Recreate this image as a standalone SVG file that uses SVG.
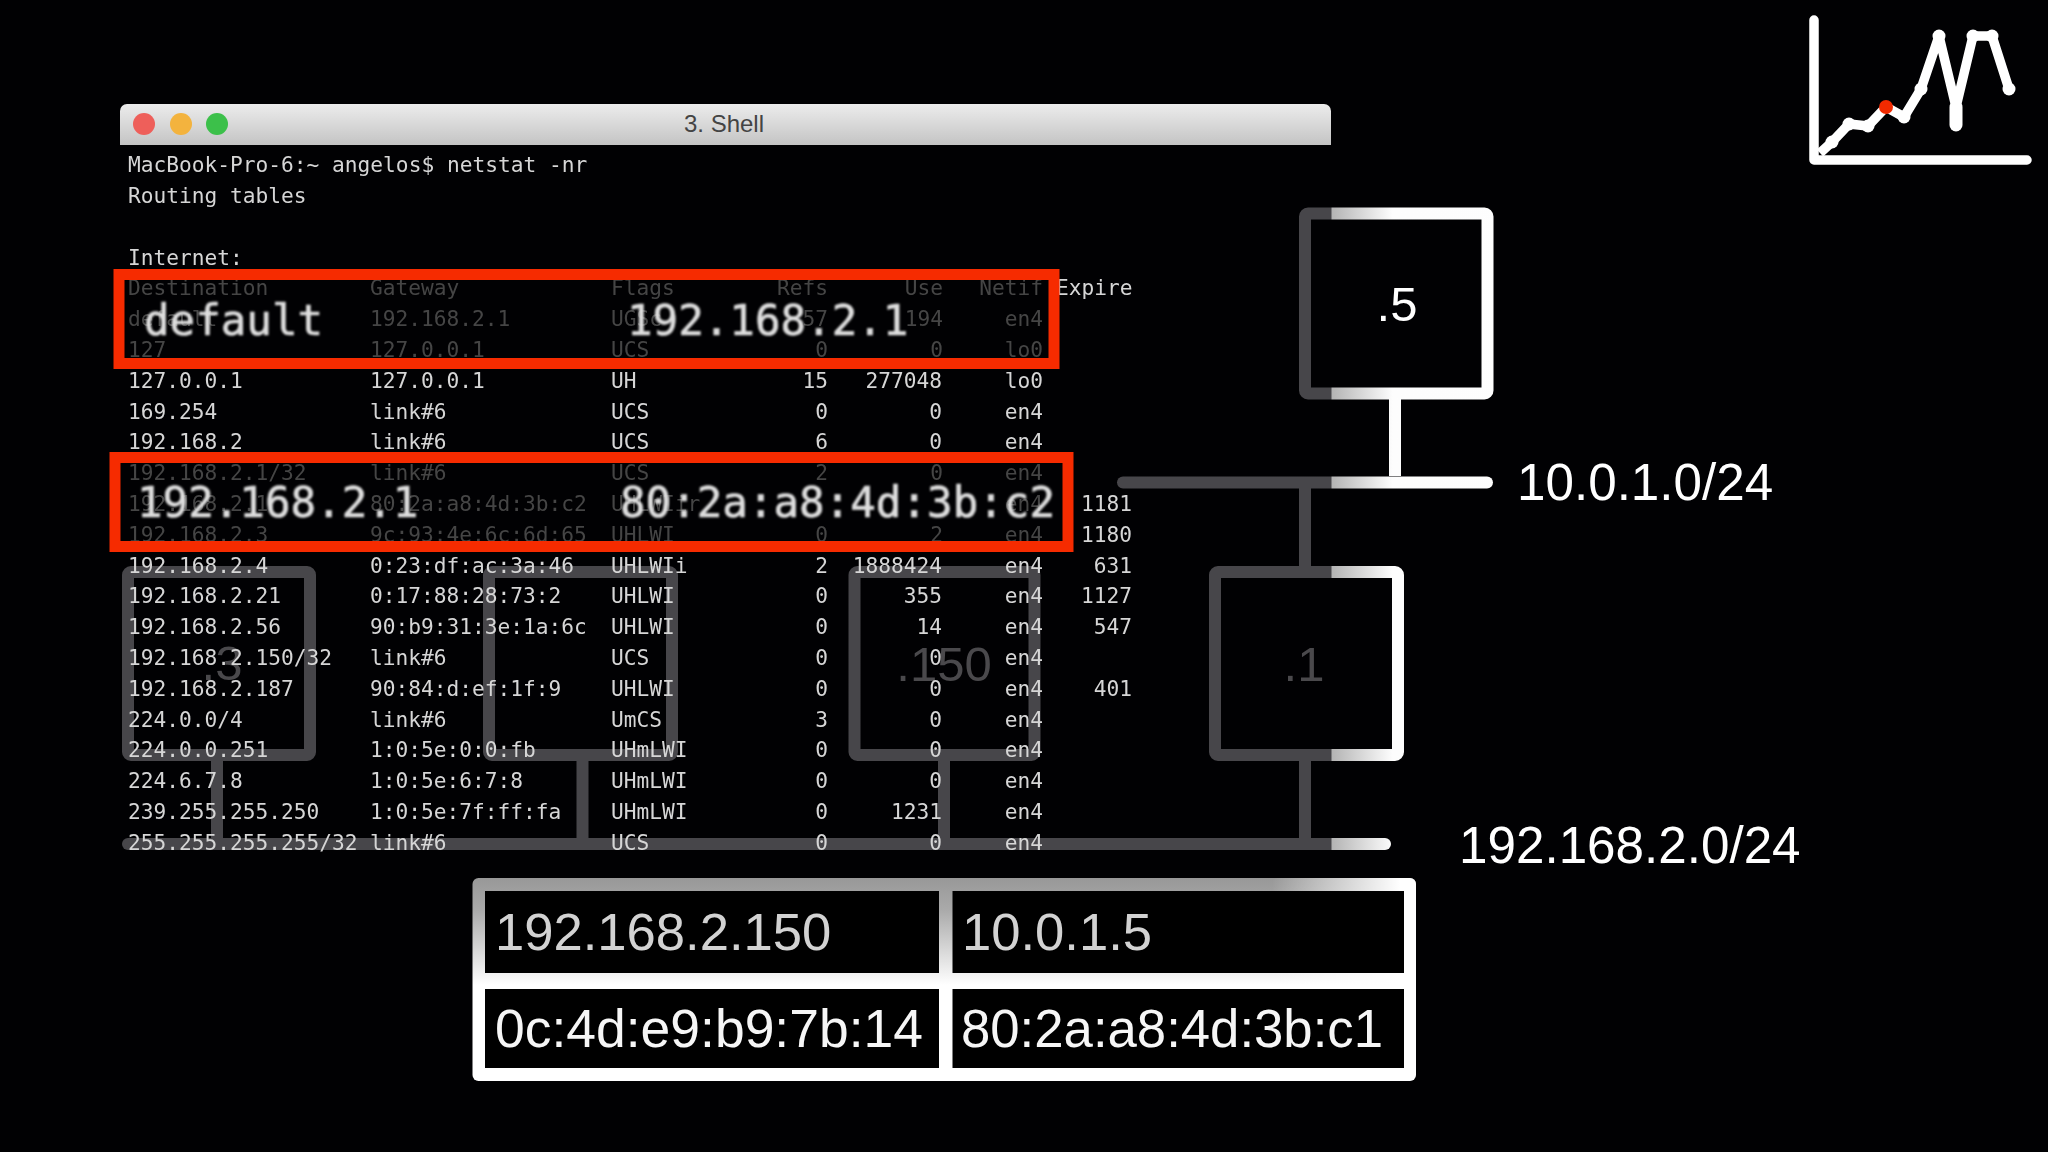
<svg xmlns="http://www.w3.org/2000/svg" width="2048" height="1152" viewBox="0 0 2048 1152">
<style>
.t{font-family:"DejaVu Sans Mono","Liberation Mono",monospace;font-size:21.2px;fill:#d6d6d6}
.d{fill:#454545}
.e{text-anchor:end}
.big{font-family:"DejaVu Sans Mono","Liberation Mono",monospace;font-size:42.5px;fill:#dedede;stroke:#dedede;stroke-width:0.7}
.h{font-family:"Liberation Sans",Arial,sans-serif}
.net{fill:none;stroke:url(#fade);stroke-width:12;stroke-linejoin:round;stroke-linecap:round}
.stem{fill:none;stroke:url(#fade);stroke-width:12}
.lbl{font-family:"Liberation Sans",Arial,sans-serif;font-size:51.2px;fill:#fff}
.node{font-family:"Liberation Sans",Arial,sans-serif;font-size:49px;fill:#4a494c}
.cell{font-family:"Liberation Sans",Arial,sans-serif;font-size:52.600px}
.cell2{font-family:"Liberation Sans",Arial,sans-serif;font-size:53.200px}
.red{fill:none;stroke:#f62b00;stroke-width:11}
</style>
<defs>
<linearGradient id="fade" gradientUnits="userSpaceOnUse" x1="0" y1="0" x2="2048" y2="0">
<stop offset="0.6499" stop-color="#47464a"/><stop offset="0.6504" stop-color="#b4b4b4"/><stop offset="0.68" stop-color="#fdfdfd"/><stop offset="1" stop-color="#fff"/>
</linearGradient>
<linearGradient id="bar" x1="0" y1="0" x2="0" y2="1"><stop offset="0" stop-color="#ececec"/><stop offset="1" stop-color="#c4c4c4"/></linearGradient>
<linearGradient id="frame" gradientUnits="userSpaceOnUse" x1="0" y1="878" x2="0" y2="985"><stop offset="0" stop-color="#989898"/><stop offset="0.3" stop-color="#aaa"/><stop offset="1" stop-color="#fff"/></linearGradient>
<linearGradient id="frameR" gradientUnits="userSpaceOnUse" x1="1272" y1="0" x2="1400" y2="0"><stop offset="0" stop-color="#fff" stop-opacity="0"/><stop offset="1" stop-color="#fff"/></linearGradient>
<filter id="soft" x="-2%" y="-2%" width="104%" height="104%"><feGaussianBlur stdDeviation="0.5"/></filter>
<filter id="soft2" x="-5%" y="-20%" width="110%" height="140%"><feGaussianBlur stdDeviation="0.9"/></filter>
</defs>
<rect width="2048" height="1152" fill="#010103"/>

<g id="connectors">
<path class="net" d="M128 844H1385"/>
<path class="net" d="M1123 482.500H1487"/>
<path class="stem" d="M217 761V838M582.500 761V838M944 761V838M1305 761V838M1305 488V566M1395 399V476"/>
</g>

<g id="node-3"><rect class="net" x="128" y="572" width="182" height="183" rx="3"/><text class="node" x="222" y="680" text-anchor="middle">.3</text></g>
<g id="node-blank"><rect class="net" x="489" y="572" width="183" height="183" rx="3"/></g>
<g id="node-150"><rect class="net" x="854.500" y="572" width="180" height="183" rx="3"/><text class="node" x="944" y="681" text-anchor="middle">.150</text></g>
<g id="node-1"><rect class="net" x="1215" y="572" width="183" height="183" rx="3"/><text class="node" x="1304" y="681" text-anchor="middle">.1</text></g>
<g id="node-5"><rect class="net" x="1305" y="213.500" width="182.500" height="180" rx="3"/><text class="node" style="fill:#fff" x="1397" y="321" text-anchor="middle">.5</text></g>

<g id="terminal">
<path d="M120 145V111a7 7 0 0 1 7-7H1324a7 7 0 0 1 7 7V145Z" fill="url(#bar)"/>
<circle cx="144" cy="124" r="11" fill="#ee5f5a"/><circle cx="181" cy="124" r="11" fill="#f3b33e"/><circle cx="217" cy="124" r="11" fill="#3cc04a"/>
<text class="h" x="724" y="132" font-size="24" fill="#444" text-anchor="middle">3. Shell</text>
<g filter="url(#soft)" transform="translate(1,-1.2)">
<text class="t" x="127" y="173.500">MacBook-Pro-6:~ angelos$ netstat -nr</text>
<text class="t" x="127" y="204.300">Routing tables</text>
<text class="t" x="127" y="265.900">Internet:</text>

<g class="dimrow">
<text class="t d" x="127" y="296.700">Destination</text><text class="t d" x="369" y="296.700">Gateway</text><text class="t d" x="610" y="296.700">Flags</text><text class="t d e" x="827" y="296.700">Refs</text><text class="t d e" x="942" y="296.700">Use</text><text class="t d e" x="1042" y="296.700">Netif</text>
<text class="t d" x="127" y="327.500">default</text><text class="t d" x="369" y="327.500">192.168.2.1</text><text class="t d" x="610" y="327.500">UGSc</text><text class="t d e" x="827" y="327.500">57</text><text class="t d e" x="942" y="327.500">194</text><text class="t d e" x="1042" y="327.500">en4</text>
<text class="t d" x="127" y="358.300">127</text><text class="t d" x="369" y="358.300">127.0.0.1</text><text class="t d" x="610" y="358.300">UCS</text><text class="t d e" x="827" y="358.300">0</text><text class="t d e" x="942" y="358.300">0</text><text class="t d e" x="1042" y="358.300">lo0</text>
<text class="t d" x="127" y="481.500">192.168.2.1/32</text><text class="t d" x="369" y="481.500">link#6</text><text class="t d" x="610" y="481.500">UCS</text><text class="t d e" x="827" y="481.500">2</text><text class="t d e" x="942" y="481.500">0</text><text class="t d e" x="1042" y="481.500">en4</text>
<text class="t d" x="127" y="512.300">192.168.2.1</text><text class="t d" x="369" y="512.300">80:2a:a8:4d:3b:c2</text><text class="t d" x="610" y="512.300">UHLWIir</text><text class="t d e" x="1042" y="512.300">en4</text>
<text class="t d" x="127" y="543.100">192.168.2.3</text><text class="t d" x="369" y="543.100">9c:93:4e:6c:6d:65</text><text class="t d" x="610" y="543.100">UHLWI</text><text class="t d e" x="827" y="543.100">0</text><text class="t d e" x="942" y="543.100">2</text><text class="t d e" x="1042" y="543.100">en4</text>
</g>

<text class="t" x="1055" y="296.700">Expire</text>
<text class="t e" x="1131" y="512.300">1181</text>
<text class="t e" x="1131" y="543.100">1180</text>

<text class="t" x="127" y="389.100">127.0.0.1</text><text class="t" x="369" y="389.100">127.0.0.1</text><text class="t" x="610" y="389.100">UH</text><text class="t e" x="827" y="389.100">15</text><text class="t e" x="941" y="389.100">277048</text><text class="t e" x="1042" y="389.100">lo0</text>
<text class="t" x="127" y="419.900">169.254</text><text class="t" x="369" y="419.900">link#6</text><text class="t" x="610" y="419.900">UCS</text><text class="t e" x="827" y="419.900">0</text><text class="t e" x="941" y="419.900">0</text><text class="t e" x="1042" y="419.900">en4</text>
<text class="t" x="127" y="450.700">192.168.2</text><text class="t" x="369" y="450.700">link#6</text><text class="t" x="610" y="450.700">UCS</text><text class="t e" x="827" y="450.700">6</text><text class="t e" x="941" y="450.700">0</text><text class="t e" x="1042" y="450.700">en4</text>

<text class="t" x="127" y="573.900">192.168.2.4</text><text class="t" x="369" y="573.900">0:23:df:ac:3a:46</text><text class="t" x="610" y="573.900">UHLWIi</text><text class="t e" x="827" y="573.900">2</text><text class="t e" x="941" y="573.900">1888424</text><text class="t e" x="1042" y="573.900">en4</text><text class="t e" x="1131" y="573.900">631</text>
<text class="t" x="127" y="604.700">192.168.2.21</text><text class="t" x="369" y="604.700">0:17:88:28:73:2</text><text class="t" x="610" y="604.700">UHLWI</text><text class="t e" x="827" y="604.700">0</text><text class="t e" x="941" y="604.700">355</text><text class="t e" x="1042" y="604.700">en4</text><text class="t e" x="1131" y="604.700">1127</text>
<text class="t" x="127" y="635.500">192.168.2.56</text><text class="t" x="369" y="635.500">90:b9:31:3e:1a:6c</text><text class="t" x="610" y="635.500">UHLWI</text><text class="t e" x="827" y="635.500">0</text><text class="t e" x="941" y="635.500">14</text><text class="t e" x="1042" y="635.500">en4</text><text class="t e" x="1131" y="635.500">547</text>
<text class="t" x="127" y="666.300">192.168.2.150/32</text><text class="t" x="369" y="666.300">link#6</text><text class="t" x="610" y="666.300">UCS</text><text class="t e" x="827" y="666.300">0</text><text class="t e" x="941" y="666.300">0</text><text class="t e" x="1042" y="666.300">en4</text>
<text class="t" x="127" y="697.100">192.168.2.187</text><text class="t" x="369" y="697.100">90:84:d:ef:1f:9</text><text class="t" x="610" y="697.100">UHLWI</text><text class="t e" x="827" y="697.100">0</text><text class="t e" x="941" y="697.100">0</text><text class="t e" x="1042" y="697.100">en4</text><text class="t e" x="1131" y="697.100">401</text>
<text class="t" x="127" y="727.900">224.0.0/4</text><text class="t" x="369" y="727.900">link#6</text><text class="t" x="610" y="727.900">UmCS</text><text class="t e" x="827" y="727.900">3</text><text class="t e" x="941" y="727.900">0</text><text class="t e" x="1042" y="727.900">en4</text>
<text class="t" x="127" y="758.700">224.0.0.251</text><text class="t" x="369" y="758.700">1:0:5e:0:0:fb</text><text class="t" x="610" y="758.700">UHmLWI</text><text class="t e" x="827" y="758.700">0</text><text class="t e" x="941" y="758.700">0</text><text class="t e" x="1042" y="758.700">en4</text>
<text class="t" x="127" y="789.500">224.6.7.8</text><text class="t" x="369" y="789.500">1:0:5e:6:7:8</text><text class="t" x="610" y="789.500">UHmLWI</text><text class="t e" x="827" y="789.500">0</text><text class="t e" x="941" y="789.500">0</text><text class="t e" x="1042" y="789.500">en4</text>
<text class="t" x="127" y="820.300">239.255.255.250</text><text class="t" x="369" y="820.300">1:0:5e:7f:ff:fa</text><text class="t" x="610" y="820.300">UHmLWI</text><text class="t e" x="827" y="820.300">0</text><text class="t e" x="941" y="820.300">1231</text><text class="t e" x="1042" y="820.300">en4</text>
<text class="t" x="127" y="851.100">255.255.255.255/32</text><text class="t" x="369" y="851.100">link#6</text><text class="t" x="610" y="851.100">UCS</text><text class="t e" x="827" y="851.100">0</text><text class="t e" x="941" y="851.100">0</text><text class="t e" x="1042" y="851.100">en4</text>
</g>
</g>

<g id="highlight-default">
<rect class="red" x="119" y="274.500" width="935" height="89"/>
<g filter="url(#soft2)"><text class="big" x="144" y="335">default</text><text class="big" x="627" y="335">192.168.2.1</text></g>
</g>
<g id="highlight-arp">
<rect class="red" x="115" y="457.500" width="953" height="89"/>
<g filter="url(#soft2)"><text class="big" x="137" y="517">192.168.2.1</text><text class="big" x="620" y="517">80:2a:a8:4d:3b:c2</text></g>
</g>

<g id="label-net1"><text class="lbl" x="1517" y="500">10.0.1.0/24</text></g>
<g id="label-net2"><text class="lbl" x="1459" y="863">192.168.2.0/24</text></g>

<g id="arp-table">
<rect x="472.500" y="878" width="943.500" height="203" rx="6" fill="url(#frame)"/>
<rect x="1272" y="878" width="144" height="110" rx="6" fill="url(#frameR)"/>
<rect x="485" y="891" width="454" height="82" fill="#000"/>
<rect x="952.500" y="891" width="451.500" height="82" fill="#000"/>
<rect x="485" y="989" width="454" height="79" fill="#000"/>
<rect x="952.500" y="989" width="451.500" height="79" fill="#000"/>
<text class="cell" x="495" y="950" fill="#d2d2d2">192.168.2.150</text>
<text class="cell" x="962" y="950" fill="#d2d2d2">10.0.1.5</text>
<text class="cell2" x="495" y="1047" fill="#f6f6f6" textLength="428" lengthAdjust="spacingAndGlyphs">0c:4d:e9:b9:7b:14</text>
<text class="cell2" x="961" y="1047" fill="#f6f6f6" textLength="422" lengthAdjust="spacingAndGlyphs">80:2a:a8:4d:3b:c1</text>
</g>

<g id="chart">
<path d="M1814 20V160H2027" fill="none" stroke="#fff" stroke-width="9.500" stroke-linecap="round" stroke-linejoin="round"/>
<path d="M1820 153L1832 142L1849 124L1868 126L1886 107L1904 117L1921 89L1939 36L1956 107L1973 36H1992L2009 89" fill="none" stroke="#fff" stroke-width="9.500" stroke-linejoin="round"/>
<path d="M1956 107V125" stroke="#fff" stroke-width="13" stroke-linecap="round"/>
<g fill="#fff"><circle cx="1832" cy="142" r="6.500"/><circle cx="1849" cy="124" r="6.500"/><circle cx="1868" cy="126" r="6.500"/><circle cx="1904" cy="117" r="6.500"/><circle cx="1921" cy="89" r="6.500"/><circle cx="1939" cy="36" r="6.500"/><circle cx="1973" cy="36" r="6.500"/><circle cx="1992" cy="36" r="6.500"/><circle cx="2009" cy="89" r="6.500"/></g>
<circle cx="1886" cy="107" r="7" fill="#f22a00"/>
</g>
</svg>
